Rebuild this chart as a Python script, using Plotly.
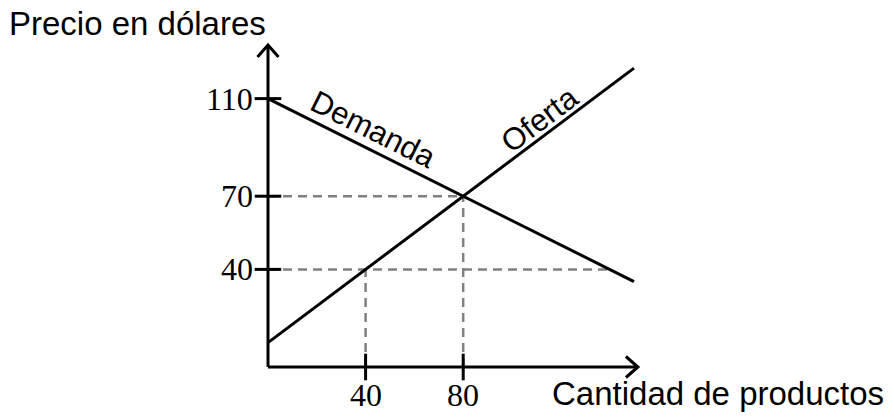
import math
import plotly.graph_objects as go

# ── Data ───────────────────────────────────────────────────────────────────
x_tick_vals = [40, 80]
y_tick_vals = [40, 70, 110]

demand_q = [0, 150]
demand_p = [110, 35]

supply_q = [0, 150]
supply_p = [10, 122.5]

# dashed guides: (q0, p0, q1, p1)
guide_q0 = [0, 0, 40, 80]
guide_p0 = [70, 40, 0, 0]
guide_q1 = [80, 140, 40, 80]
guide_p1 = [70, 40, 40, 70]

axis_q_max = 151.6
axis_p_max = 132

# ── Scale: pixels per unit, origin in pixels ──────────────────────────────
# the page body adds an 8px margin, so the figure is drawn 8px smaller
PAD = 8
W, H = 894 - PAD, 417 - PAD
PX = 2.44
OX, OY = 268 - PAD, 367 - PAD

SANS = "Liberation Sans, Arial, sans-serif"
SERIF = "Liberation Serif, Times New Roman, serif"
INK = "#000000"
GREY = "#808080"

fig = go.Figure()

# guides
for q0, p0, q1, p1 in zip(guide_q0, guide_p0, guide_q1, guide_p1):
    fig.add_trace(go.Scatter(
        x=[q0, q1], y=[p0, p1], mode="lines",
        line=dict(color=GREY, width=2.5, dash="9px,6px"),
        hoverinfo="skip", showlegend=False,
    ))

# axes
fig.add_trace(go.Scatter(x=[0, axis_q_max], y=[0, 0], mode="lines",
                         line=dict(color=INK, width=3), showlegend=False))
fig.add_trace(go.Scatter(x=[0, 0], y=[0, axis_p_max], mode="lines",
                         line=dict(color=INK, width=3), showlegend=False))

# arrow chevrons
along, across = 12 / PX, 10.5 / PX
fig.add_trace(go.Scatter(
    x=[axis_q_max - along, axis_q_max, axis_q_max - along],
    y=[across, 0, -across], mode="lines",
    line=dict(color=INK, width=3), showlegend=False))
fig.add_trace(go.Scatter(
    x=[-across, 0, across],
    y=[axis_p_max - along, axis_p_max, axis_p_max - along], mode="lines",
    line=dict(color=INK, width=3), showlegend=False))

# curves
fig.add_trace(go.Scatter(x=demand_q, y=demand_p, mode="lines",
                         line=dict(color=INK, width=3), showlegend=False))
fig.add_trace(go.Scatter(x=supply_q, y=supply_p, mode="lines",
                         line=dict(color=INK, width=3), showlegend=False))

# tick marks
fig.add_trace(go.Scatter(
    x=x_tick_vals, y=[0] * len(x_tick_vals), mode="markers",
    marker=dict(symbol="line-ns", size=19, line=dict(color=INK, width=3)),
    showlegend=False))
fig.add_trace(go.Scatter(
    x=[0] * len(y_tick_vals), y=y_tick_vals, mode="markers",
    marker=dict(symbol="line-ew", size=19, line=dict(color=INK, width=3)),
    showlegend=False))

# tick labels
for v in x_tick_vals:
    fig.add_annotation(x=v, y=0, text=str(v), showarrow=False,
                       xanchor="center", yanchor="top", yshift=-8,
                       font=dict(family=SERIF, size=32, color=INK))
for v in y_tick_vals:
    fig.add_annotation(x=0, y=v, text=str(v), showarrow=False,
                       xanchor="right", yanchor="middle", xshift=-13,
                       font=dict(family=SERIF, size=32, color=INK))

# curve labels
d_ang = math.degrees(math.atan(abs((demand_p[1] - demand_p[0]) / (demand_q[1] - demand_q[0]))))
s_ang = math.degrees(math.atan((supply_p[1] - supply_p[0]) / (supply_q[1] - supply_q[0])))
fig.add_annotation(x=43.2, y=97.5, text="Demanda", showarrow=False,
                   textangle=d_ang, font=dict(family=SANS, size=31, color=INK))
fig.add_annotation(x=111.3, y=101.6, text="Oferta", showarrow=False,
                   textangle=-s_ang, font=dict(family=SANS, size=31, color=INK))

# axis titles
fig.add_annotation(xref="paper", yref="paper", x=(8 - PAD) / W, y=1 - (23 - PAD) / H,
                   text="Precio en dólares", showarrow=False, borderpad=0,
                   xanchor="left", yanchor="middle",
                   font=dict(family=SANS, size=33, color=INK))
fig.add_annotation(xref="paper", yref="paper", x=(551 - PAD) / W, y=1 - (393 - PAD) / H,
                   text="Cantidad de productos", showarrow=False, borderpad=0,
                   xanchor="left", yanchor="middle",
                   font=dict(family=SANS, size=33, color=INK))

fig.update_layout(
    width=W, height=H,
    margin=dict(l=0, r=0, t=0, b=0),
    paper_bgcolor="white", plot_bgcolor="white",
    xaxis=dict(range=[-OX / PX, (W - OX) / PX], visible=False, fixedrange=True),
    yaxis=dict(range=[-(H - OY) / PX, OY / PX], visible=False, fixedrange=True),
    showlegend=False,
)

fig.write_html("out.html")
